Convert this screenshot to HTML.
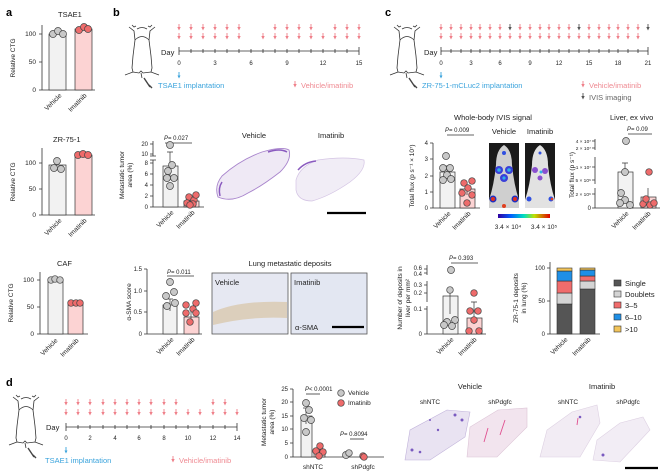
<!DOCTYPE html>
<html><head><meta charset="utf-8"><style>
html,body{margin:0;padding:0;background:#fff;}
svg{display:block;font-family:"Liberation Sans",sans-serif;}
text{fill:#222;}
.t{font-size:6.5px;}
.s{font-size:6px;}
.h{font-size:7.5px;}
.L{font-size:11px;font-weight:bold;fill:#000;}
.ax{stroke:#333;stroke-width:0.8;fill:none;}
.bg{fill:#f2f2f2;stroke:#333;stroke-width:0.7;}
.bp{fill:#fcd3d3;stroke:#333;stroke-width:0.7;}
.cg{fill:#c8c8c8;stroke:#444;stroke-width:0.7;}
.cp{fill:#ee6b6b;stroke:#444;stroke-width:0.7;}
.er{stroke:#333;stroke-width:0.7;fill:none;}
.bl{fill:#3aa3dc;font-size:7.5px;}
.pk{fill:#ef8a92;font-size:7.5px;}
</style></head><body>
<svg width="660" height="475" viewBox="0 0 660 475" xmlns="http://www.w3.org/2000/svg">
<defs>
<symbol id="ar" viewBox="0 0 4 7" width="4" height="7"><path d="M2,0V3" stroke="#ef7f89" stroke-width="0.9"/><path d="M0.3,3H3.7L2,6.5Z" fill="#ef7f89"/></symbol>
<symbol id="ag" viewBox="0 0 4 7" width="4" height="7"><path d="M2,0V3" stroke="#555" stroke-width="0.9"/><path d="M0.3,3H3.7L2,6.5Z" fill="#555"/></symbol>
<symbol id="ab" viewBox="0 0 4 7" width="4" height="7"><path d="M2,0V4" stroke="#3aa3dc" stroke-width="0.9"/><path d="M0.5,3.5H3.5L2,6.5Z" fill="#3aa3dc"/></symbol>
<symbol id="ms" viewBox="0 0 36 66" width="36" height="66">
<path d="M8,1 L10,3 L12,2 M28,1 L26,3 L24,2 M5,3 L10,7 L11,16 L9,32 L8,44 L9,48 L1,51 M9,48 L15,49 L17,47 L19,49 L27,48 L35,51 M27,48 L28,44 L27,32 L25,16 L26,7 L31,3 M11,16 Q18,9 25,16 M13,5 Q18,2 23,5 M17,49 L18,54" fill="none" stroke="#333" stroke-width="0.8"/>
<path d="M20,54 L26,63 M25,61 L28,64" stroke="#444" stroke-width="1.4" fill="none"/>
</symbol>
</defs>

<!-- ===== Panel a ===== -->
<text class="L" x="6" y="16">a</text>
<text class="h" x="58" y="17">TSAE1</text>
<path class="ax" d="M42,25V90H95M39,34H42M39,62H42M39,90H42"/>
<text class="t" x="36" y="36" text-anchor="end">100</text>
<text class="t" x="36" y="64" text-anchor="end">50</text>
<text class="t" x="36" y="92" text-anchor="end">0</text>
<text class="t" transform="translate(15,58) rotate(-90)" text-anchor="middle">Relative CTG</text>
<rect class="bg" x="49" y="34" width="17" height="56"/>
<rect class="bp" x="75" y="29" width="17" height="61"/>
<circle class="cg" cx="53" cy="34" r="3.5"/><circle class="cg" cx="58" cy="31" r="3.5"/><circle class="cg" cx="63" cy="34" r="3.5"/>
<circle class="cp" cx="79" cy="30" r="3.5"/><circle class="cp" cx="84" cy="27" r="3.5"/><circle class="cp" cx="88" cy="29" r="3.5"/>
<text class="t" transform="translate(62,96) rotate(-45)" text-anchor="end">Vehicle</text>
<text class="t" transform="translate(87,96) rotate(-45)" text-anchor="end">Imatinib</text>

<text class="h" x="53" y="142">ZR-75-1</text>
<path class="ax" d="M42,148V215H95M39,163H42M39,189H42M39,215H42"/>
<text class="t" x="36" y="165" text-anchor="end">100</text>
<text class="t" x="36" y="191" text-anchor="end">50</text>
<text class="t" x="36" y="217" text-anchor="end">0</text>
<text class="t" transform="translate(15,182) rotate(-90)" text-anchor="middle">Relative CTG</text>
<rect class="bg" x="49" y="165" width="17" height="50"/>
<rect class="bp" x="75" y="155" width="17" height="60"/>
<circle class="cg" cx="54" cy="168" r="3.5"/><circle class="cg" cx="57" cy="161" r="3.5"/><circle class="cg" cx="61" cy="169" r="3.5"/>
<circle class="cp" cx="78" cy="155" r="3.5"/><circle class="cp" cx="83" cy="154" r="3.5"/><circle class="cp" cx="88" cy="155" r="3.5"/>
<text class="t" transform="translate(62,221) rotate(-45)" text-anchor="end">Vehicle</text>
<text class="t" transform="translate(87,221) rotate(-45)" text-anchor="end">Imatinib</text>

<text class="h" x="57" y="266">CAF</text>
<path class="ax" d="M40,272V334H88M37,280H40M37,307H40M37,334H40"/>
<text class="t" x="34" y="282" text-anchor="end">100</text>
<text class="t" x="34" y="309" text-anchor="end">50</text>
<text class="t" x="34" y="336" text-anchor="end">0</text>
<text class="t" transform="translate(13,303) rotate(-90)" text-anchor="middle">Relative CTG</text>
<rect class="bg" x="48" y="280" width="15" height="54"/>
<rect class="bp" x="68" y="303" width="15" height="31"/>
<circle class="cg" cx="51" cy="280" r="3.3"/><circle class="cg" cx="55" cy="279" r="3.3"/><circle class="cg" cx="60" cy="280" r="3.3"/>
<circle class="cp" cx="71" cy="303" r="3.3"/><circle class="cp" cx="76" cy="303" r="3.3"/><circle class="cp" cx="80" cy="303" r="3.3"/>
<text class="t" transform="translate(58,341) rotate(-45)" text-anchor="end">Vehicle</text>
<text class="t" transform="translate(79,341) rotate(-45)" text-anchor="end">Imatinib</text>

<!-- ===== Panel b ===== -->
<text class="L" x="113" y="16">b</text>
<use href="#ms" x="124" y="24" width="36" height="66"/>
<text class="h" x="161" y="55">Day</text>
<path class="ax" d="M179,51H359M179,47V55M359,47V55M191,49v4M203,49v4M215,49v4M227,49v4M239,49v4M251,49v4M263,49v4M275,49v4M287,49v4M299,49v4M311,49v4M323,49v4M335,49v4M347,49v4"/>
<g class="s" text-anchor="middle"><text x="179" y="65">0</text><text x="215" y="65">3</text><text x="251" y="65">6</text><text x="287" y="65">9</text><text x="323" y="65">12</text><text x="359" y="65">15</text></g>
<g>
<use href="#ar" x="177" y="24"/><use href="#ar" x="189" y="24"/><use href="#ar" x="201" y="24"/><use href="#ar" x="213" y="24"/><use href="#ar" x="225" y="24"/><use href="#ar" x="237" y="24"/><use href="#ar" x="273" y="24"/><use href="#ar" x="285" y="24"/><use href="#ar" x="297" y="24"/><use href="#ar" x="309" y="24"/><use href="#ar" x="333" y="24"/><use href="#ar" x="345" y="24"/><use href="#ar" x="357" y="24"/>
<use href="#ar" x="177" y="33"/><use href="#ar" x="189" y="33"/><use href="#ar" x="201" y="33"/><use href="#ar" x="213" y="33"/><use href="#ar" x="225" y="33"/><use href="#ar" x="237" y="33"/><use href="#ar" x="261" y="33"/><use href="#ar" x="273" y="33"/><use href="#ar" x="285" y="33"/><use href="#ar" x="297" y="33"/><use href="#ar" x="309" y="33"/><use href="#ar" x="321" y="33"/><use href="#ar" x="333" y="33"/><use href="#ar" x="345" y="33"/><use href="#ar" x="357" y="33"/>
</g>
<use href="#ab" x="177" y="72"/>
<text class="bl" x="158" y="88">TSAE1 implantation</text>
<use href="#ar" x="293" y="81"/>
<text class="pk" x="301" y="88">Vehicle/imatinib</text>

<!-- b chart 1 -->
<text class="s" x="164" y="140" font-style="italic">P</text><text class="s" x="168" y="140"> = 0.027</text>
<path class="ax" d="M165,143H192"/>
<path class="ax" d="M153,141V156M153,160V207H204M150,144H153M150,154H153M150,163H153M150,174H153M150,185H153M150,196H153M150,207H153M150,156L156,156M150,160L156,160"/>
<g class="s" text-anchor="end"><text x="148" y="146">20</text><text x="148" y="156">10</text><text x="148" y="165">8</text><text x="148" y="176">6</text><text x="148" y="187">4</text><text x="148" y="198">2</text><text x="148" y="209">0</text></g>
<text class="t" transform="translate(124,175) rotate(-90)" text-anchor="middle">Metastatic tumor</text>
<text class="t" transform="translate(132,175) rotate(-90)" text-anchor="middle">area (%)</text>
<rect class="bg" x="163" y="166" width="15" height="41"/>
<rect class="bp" x="184" y="201" width="15" height="6"/>
<path class="er" d="M170,152V178M167,152H173M191,196V206"/>
<circle class="cg" cx="170" cy="145" r="3.5"/><circle class="cg" cx="172" cy="165" r="3.5"/><circle class="cg" cx="168" cy="171" r="3.5"/><circle class="cg" cx="174" cy="178" r="3.5"/><circle class="cg" cx="167" cy="178" r="3.5"/><circle class="cg" cx="170" cy="186" r="3.5"/>
<circle class="cp" cx="189" cy="197" r="3.3"/><circle class="cp" cx="194" cy="200" r="3.3"/><circle class="cp" cx="187" cy="203" r="3.3"/><circle class="cp" cx="193" cy="204" r="3.3"/><circle class="cp" cx="196" cy="195" r="3.3"/><circle class="cp" cx="190" cy="205" r="3.3"/>
<text class="t" transform="translate(174,213) rotate(-45)" text-anchor="end">Vehicle</text>
<text class="t" transform="translate(195,213) rotate(-45)" text-anchor="end">Imatinib</text>
<!-- histology b -->
<text class="h" x="254" y="138" text-anchor="middle">Vehicle</text>
<text class="h" x="331" y="138" text-anchor="middle">Imatinib</text>
<path d="M218,197 Q214,186 222,176 Q240,160 262,152 Q282,146 289,150 Q292,160 280,172 Q262,186 248,193 Q232,203 218,197Z" fill="#efe9f5" stroke="#a884cc" stroke-width="0.9"/>
<path d="M296,180 Q300,166 318,160 Q345,156 364,160 Q366,170 350,182 Q330,196 312,201 Q298,201 296,190Z" fill="#f1edf6" stroke="#d4c4e4" stroke-width="0.7"/>
<path d="M298,170 Q305,162 316,161" stroke="#8a5abf" stroke-width="1.5" fill="none"/>
<path d="M268,152 Q280,148 287,152" stroke="#8a5abf" stroke-width="1.5" fill="none"/>
<path d="M220,196 Q218,188 222,182" stroke="#8a5abf" stroke-width="1.5" fill="none"/>
<path d="M327,213H366" stroke="#000" stroke-width="2.2"/>

<!-- b chart 2 alpha-SMA -->
<text class="s" x="167" y="274" font-style="italic">P</text><text class="s" x="171" y="274"> = 0.011</text>
<path class="ax" d="M167,276H194"/>
<path class="ax" d="M147,269V334H202M144,269H147M144,291H147M144,312H147M144,334H147"/>
<g class="s" text-anchor="end"><text x="142" y="271">1.5</text><text x="142" y="293">1.0</text><text x="142" y="314">0.5</text><text x="142" y="336">0</text></g>
<text class="t" transform="translate(131,302) rotate(-90)" text-anchor="middle">α-SMA score</text>
<rect class="bg" x="163" y="305" width="14" height="29"/>
<rect class="bp" x="184" y="317" width="15" height="17"/>
<path class="er" d="M170,299V311M167,299H173M191,312V322"/>
<circle class="cg" cx="170" cy="282" r="3.5"/><circle class="cg" cx="174" cy="292" r="3.5"/><circle class="cg" cx="166" cy="296" r="3.5"/><circle class="cg" cx="175" cy="303" r="3.5"/><circle class="cg" cx="167" cy="306" r="3.5"/>
<circle class="cp" cx="186" cy="305" r="3.3"/><circle class="cp" cx="196" cy="303" r="3.3"/><circle class="cp" cx="193" cy="309" r="3.3"/><circle class="cp" cx="186" cy="313" r="3.3"/><circle class="cp" cx="190" cy="322" r="3.3"/><circle class="cp" cx="196" cy="313" r="3.3"/>
<text class="t" transform="translate(174,340) rotate(-45)" text-anchor="end">Vehicle</text>
<text class="t" transform="translate(195,340) rotate(-45)" text-anchor="end">Imatinib</text>
<text class="h" x="290" y="266" text-anchor="middle">Lung metastatic deposits</text>
<rect x="212" y="273" width="76" height="61" fill="#e6e8f2" stroke="#555" stroke-width="0.8"/>
<path d="M213,312 Q240,300 287,302 L287,318 Q250,316 213,325Z" fill="#d9c8ae" opacity="0.8"/>
<rect x="291" y="273" width="76" height="61" fill="#e3e7f2" stroke="#555" stroke-width="0.8"/>
<text class="h" x="215" y="285">Vehicle</text>
<text class="h" x="294" y="285">Imatinib</text>
<text class="h" x="295" y="330">α-SMA</text>
<path d="M332,327H364" stroke="#000" stroke-width="2.2"/>

<!-- ===== Panel c ===== -->
<text class="L" x="385" y="16">c</text>
<use href="#ms" x="389" y="24" width="36" height="66"/>
<text class="h" x="424" y="55">Day</text>
<path class="ax" d="M441,51H648M441,47V55M648,47V55M451,49v4M461,49v4M471,49v4M480,49v4M490,49v4M500,49v4M510,49v4M520,49v4M530,49v4M540,49v4M549,49v4M559,49v4M569,49v4M579,49v4M589,49v4M599,49v4M609,49v4M618,49v4M628,49v4M638,49v4"/>
<g class="s" text-anchor="middle"><text x="441" y="65">0</text><text x="471" y="65">3</text><text x="500" y="65">6</text><text x="530" y="65">9</text><text x="559" y="65">12</text><text x="589" y="65">15</text><text x="618" y="65">18</text><text x="648" y="65">21</text></g>
<g>
<use href="#ar" x="439" y="24"/><use href="#ar" x="449" y="24"/><use href="#ar" x="459" y="24"/><use href="#ar" x="469" y="24"/><use href="#ar" x="478" y="24"/><use href="#ar" x="488" y="24"/><use href="#ar" x="498" y="24"/><use href="#ag" x="508" y="24"/><use href="#ar" x="518" y="24"/><use href="#ar" x="528" y="24"/><use href="#ar" x="538" y="24"/><use href="#ar" x="547" y="24"/><use href="#ar" x="557" y="24"/><use href="#ar" x="567" y="24"/><use href="#ag" x="577" y="24"/><use href="#ar" x="587" y="24"/><use href="#ar" x="597" y="24"/><use href="#ar" x="607" y="24"/><use href="#ar" x="616" y="24"/><use href="#ar" x="626" y="24"/><use href="#ar" x="636" y="24"/><use href="#ag" x="646" y="24"/>
<use href="#ar" x="439" y="33"/><use href="#ar" x="449" y="33"/><use href="#ar" x="459" y="33"/><use href="#ar" x="469" y="33"/><use href="#ar" x="478" y="33"/><use href="#ar" x="488" y="33"/><use href="#ar" x="498" y="33"/><use href="#ar" x="508" y="33"/><use href="#ar" x="518" y="33"/><use href="#ar" x="528" y="33"/><use href="#ar" x="538" y="33"/><use href="#ar" x="547" y="33"/><use href="#ar" x="557" y="33"/><use href="#ar" x="567" y="33"/><use href="#ar" x="577" y="33"/><use href="#ar" x="587" y="33"/><use href="#ar" x="597" y="33"/><use href="#ar" x="607" y="33"/><use href="#ar" x="616" y="33"/><use href="#ar" x="626" y="33"/><use href="#ar" x="636" y="33"/>
</g>
<use href="#ab" x="439" y="72"/>
<text class="bl" x="422" y="88">ZR-75-1-mCLuc2 implantation</text>
<use href="#ar" x="581" y="81"/>
<text class="pk" x="589" y="88">Vehicle/imatinib</text>
<use href="#ag" x="581" y="93"/>
<text class="h" x="589" y="100" style="fill:#666">IVIS imaging</text>

<!-- c IVIS chart -->
<text class="h" x="493" y="120" text-anchor="middle">Whole-body IVIS signal</text>
<text class="s" x="445" y="132" font-style="italic">P</text><text class="s" x="449" y="132"> = 0.009</text>
<path class="ax" d="M447,135H474"/>
<path class="ax" d="M433,143V208H480M430,143H433M430,159H433M430,176H433M430,192H433M430,208H433"/>
<g class="s" text-anchor="end"><text x="428" y="145">4</text><text x="428" y="161">3</text><text x="428" y="178">2</text><text x="428" y="194">1</text><text x="428" y="210">0</text></g>
<text class="t" transform="translate(414,176) rotate(-90)" text-anchor="middle">Total flux (p s⁻¹ × 10⁷)</text>
<rect class="bg" x="440" y="172" width="15" height="36"/>
<rect class="bp" x="460" y="189" width="15" height="19"/>
<path class="er" d="M447,166V178M444,166H450M467,184V195"/>
<circle class="cg" cx="446" cy="156" r="3.5"/><circle class="cg" cx="443" cy="168" r="3.5"/><circle class="cg" cx="450" cy="168" r="3.5"/><circle class="cg" cx="447" cy="175" r="3.5"/><circle class="cg" cx="443" cy="180" r="3.5"/><circle class="cg" cx="451" cy="179" r="3.5"/>
<circle class="cp" cx="464" cy="183" r="3.3"/><circle class="cp" cx="472" cy="181" r="3.3"/><circle class="cp" cx="468" cy="188" r="3.3"/><circle class="cp" cx="462" cy="193" r="3.3"/><circle class="cp" cx="472" cy="195" r="3.3"/><circle class="cp" cx="467" cy="203" r="3.3"/>
<text class="t" transform="translate(451,214) rotate(-45)" text-anchor="end">Vehicle</text>
<text class="t" transform="translate(471,214) rotate(-45)" text-anchor="end">Imatinib</text>
<text class="h" x="504" y="134" text-anchor="middle">Vehicle</text>
<text class="h" x="540" y="134" text-anchor="middle">Imatinib</text>
<rect x="489" y="143" width="30" height="65" fill="#1a1a1a"/>
<path d="M504,145 Q496,150 496,165 Q494,185 489,200 L489,208 L519,208 L519,200 Q514,185 512,165 Q512,150 504,145Z" fill="#cfcfcf"/>
<circle cx="504" cy="153" r="2" fill="#3050e0"/>
<circle cx="499" cy="170" r="4" fill="#3a40d8"/><circle cx="509" cy="170" r="4" fill="#3a40d8"/><circle cx="504" cy="178" r="4" fill="#3a40d8"/>
<circle cx="499" cy="170" r="1.8" fill="#30b0e8"/><circle cx="509" cy="170" r="1.8" fill="#30b0e8"/><circle cx="504" cy="178" r="1.6" fill="#30b0e8"/>
<circle cx="493" cy="199" r="3.5" fill="#2030c0"/><circle cx="493" cy="199" r="2" fill="#e03020"/><circle cx="515" cy="199" r="3.5" fill="#2030c0"/><circle cx="515" cy="199" r="2" fill="#e03020"/><circle cx="504" cy="206" r="2" fill="#e04020"/>
<rect x="525" y="143" width="30" height="65" fill="#1a1a1a"/>
<path d="M540,145 Q532,150 532,165 Q530,185 525,200 L525,208 L555,208 L555,200 Q550,185 548,165 Q548,150 540,145Z" fill="#e2e2e2"/>
<circle cx="540" cy="153" r="1.5" fill="#3050e0"/>
<circle cx="535" cy="170" r="3" fill="#8a50d0"/><circle cx="545" cy="171" r="3" fill="#8a50d0"/><circle cx="540" cy="178" r="2.5" fill="#8a50d0"/><circle cx="541" cy="172" r="1.5" fill="#30b0e8"/>
<circle cx="529" cy="199" r="2.5" fill="#3050e0"/><circle cx="551" cy="199" r="2.5" fill="#3050e0"/><circle cx="552" cy="199" r="1.3" fill="#e04020"/>
<defs><linearGradient id="cb"><stop offset="0" stop-color="#3000a0"/><stop offset="0.25" stop-color="#0060ff"/><stop offset="0.5" stop-color="#00e0c0"/><stop offset="0.7" stop-color="#c0e000"/><stop offset="1" stop-color="#e00000"/></linearGradient></defs>
<rect x="498" y="214" width="52" height="4" fill="url(#cb)"/>
<text class="t" x="508" y="229" text-anchor="middle">3.4 × 10⁴</text>
<text class="t" x="544" y="229" text-anchor="middle">3.4 × 10⁵</text>

<!-- c liver chart -->
<text class="h" x="610" y="120">Liver, ex vivo</text>
<text class="s" x="627" y="131" font-style="italic">P</text><text class="s" x="631" y="131"> = 0.09</text>
<path class="ax" d="M628,134H652"/>
<path class="ax" d="M595,139V150M595,157V184M595,188V208H660M592,141H595M592,148H595M592,167H595M592,180H595M592,194H595M592,208H595"/>
<g text-anchor="end" font-size="4.8"><text x="591" y="143">4 × 10⁷</text><text x="591" y="150">2 × 10⁷</text><text x="591" y="169">1 × 10⁷</text><text x="591" y="182">5 × 10⁶</text><text x="591" y="196">2 × 10⁶</text><text x="591" y="210" font-size="6">0</text></g>
<text class="t" transform="translate(574,175) rotate(-90)" text-anchor="middle">Total flux (p s⁻¹)</text>
<rect class="bg" x="618" y="172" width="15" height="36"/>
<rect class="bp" x="641" y="197" width="15" height="11"/>
<path class="er" d="M625,163V172M622,163H628M648,188V200"/>
<circle class="cg" cx="626" cy="141" r="3.5"/><circle class="cg" cx="625" cy="172" r="3.5"/><circle class="cg" cx="621" cy="193" r="3.5"/><circle class="cg" cx="625" cy="200" r="3.5"/><circle class="cg" cx="630" cy="205" r="3.5"/><circle class="cg" cx="620" cy="203" r="3.5"/>
<circle class="cp" cx="649" cy="172" r="3.3"/><circle class="cp" cx="643" cy="204" r="3.3"/><circle class="cp" cx="650" cy="205" r="3.3"/><circle class="cp" cx="646" cy="199" r="3.3"/><circle class="cp" cx="654" cy="203" r="3.3"/>
<text class="t" transform="translate(629,214) rotate(-45)" text-anchor="end">Vehicle</text>
<text class="t" transform="translate(651,214) rotate(-45)" text-anchor="end">Imatinib</text>

<!-- c deposits chart -->
<text class="s" x="449" y="260" font-style="italic">P</text><text class="s" x="453" y="260"> = 0.393</text>
<path class="ax" d="M451,263H478"/>
<path class="ax" d="M427,265V275M427,281V302M427,306V334H486M424,269H427M424,273H427M424,285H427M424,293H427M424,309H427M424,334H427"/>
<g class="s" text-anchor="end"><text x="422" y="270">0.6</text><text x="422" y="276">0.4</text><text x="422" y="287">0.3</text><text x="422" y="295">0.2</text><text x="422" y="311">0.1</text><text x="422" y="336">0</text></g>
<text class="t" transform="translate(402,298) rotate(-90)" text-anchor="middle">Number of deposits in</text>
<text class="t" transform="translate(410,298) rotate(-90)" text-anchor="middle">liver per mm²</text>
<rect class="bg" x="443" y="296" width="15" height="38"/>
<rect class="bp" x="467" y="318" width="15" height="16"/>
<path class="er" d="M450,290V314M447,290H453M474,302V324M471,302H477"/>
<circle class="cg" cx="451" cy="270" r="3.5"/><circle class="cg" cx="450" cy="290" r="3.3"/><circle class="cg" cx="447" cy="322" r="3.5"/><circle class="cg" cx="455" cy="320" r="3.5"/><circle class="cg" cx="452" cy="326" r="3.5"/><circle class="cg" cx="444" cy="325" r="3.5"/>
<circle class="cp" cx="474" cy="293" r="3.3"/><circle class="cp" cx="470" cy="311" r="3.3"/><circle class="cp" cx="478" cy="311" r="3.3"/><circle class="cp" cx="474" cy="320" r="3.3"/><circle class="cp" cx="469" cy="331" r="3.3"/><circle class="cp" cx="479" cy="331" r="3.3"/>
<text class="t" transform="translate(454,340) rotate(-45)" text-anchor="end">Vehicle</text>
<text class="t" transform="translate(477,340) rotate(-45)" text-anchor="end">Imatinib</text>

<!-- c stacked -->
<path class="ax" d="M550,262V334H600M547,268H550M547,301H550M547,334H550"/>
<g class="s" text-anchor="end"><text x="545" y="270">100</text><text x="545" y="303">50</text><text x="545" y="336">0</text></g>
<text class="t" transform="translate(518,298) rotate(-90)" text-anchor="middle">ZR-75-1 deposits</text>
<text class="t" transform="translate(526,298) rotate(-90)" text-anchor="middle">in lung (%)</text>
<g stroke="#333" stroke-width="0.6">
<rect x="557" y="304" width="15" height="30" fill="#555"/>
<rect x="557" y="293" width="15" height="11" fill="#d4d4d4"/>
<rect x="557" y="281" width="15" height="12" fill="#f06c6c"/>
<rect x="557" y="271" width="15" height="10" fill="#1f8fe6"/>
<rect x="557" y="268" width="15" height="3" fill="#f2c45a"/>
<rect x="580" y="289" width="15" height="45" fill="#555"/>
<rect x="580" y="281" width="15" height="8" fill="#d4d4d4"/>
<rect x="580" y="276" width="15" height="5" fill="#f06c6c"/>
<rect x="580" y="270" width="15" height="6" fill="#1f8fe6"/>
<rect x="580" y="268" width="15" height="2" fill="#f2c45a"/>
</g>
<text class="t" transform="translate(568,340) rotate(-45)" text-anchor="end">Vehicle</text>
<text class="t" transform="translate(591,340) rotate(-45)" text-anchor="end">Imatinib</text>
<g stroke="#333" stroke-width="0.6">
<rect x="614" y="280" width="7" height="6" fill="#555"/>
<rect x="614" y="291" width="7" height="6" fill="#d4d4d4"/>
<rect x="614" y="302" width="7" height="6" fill="#f06c6c"/>
<rect x="614" y="314" width="7" height="6" fill="#1f8fe6"/>
<rect x="614" y="326" width="7" height="6" fill="#f2c45a"/>
</g>
<g class="h"><text x="625" y="286">Single</text><text x="625" y="297">Doublets</text><text x="625" y="308">3–5</text><text x="625" y="320">6–10</text><text x="625" y="332">&gt;10</text></g>

<!-- ===== Panel d ===== -->
<text class="L" x="6" y="386">d</text>
<use href="#ms" x="8" y="394" width="36" height="66"/>
<text class="h" x="46" y="430">Day</text>
<path class="ax" d="M66,427H237M66,423V431M237,423V431M78,425v4M90,425v4M103,425v4M115,425v4M127,425v4M139,425v4M151,425v4M164,425v4M176,425v4M188,425v4M200,425v4M213,425v4M225,425v4"/>
<g class="s" text-anchor="middle"><text x="66" y="440">0</text><text x="90" y="440">2</text><text x="115" y="440">4</text><text x="139" y="440">6</text><text x="164" y="440">8</text><text x="188" y="440">10</text><text x="213" y="440">12</text><text x="237" y="440">14</text></g>
<g>
<use href="#ar" x="64" y="399"/><use href="#ar" x="76" y="399"/><use href="#ar" x="88" y="399"/><use href="#ar" x="101" y="399"/><use href="#ar" x="113" y="399"/><use href="#ar" x="125" y="399"/><use href="#ar" x="137" y="399"/><use href="#ar" x="149" y="399"/><use href="#ar" x="162" y="399"/><use href="#ar" x="174" y="399"/><use href="#ar" x="211" y="399"/><use href="#ar" x="223" y="399"/>
<use href="#ar" x="64" y="409"/><use href="#ar" x="76" y="409"/><use href="#ar" x="88" y="409"/><use href="#ar" x="101" y="409"/><use href="#ar" x="113" y="409"/><use href="#ar" x="125" y="409"/><use href="#ar" x="137" y="409"/><use href="#ar" x="149" y="409"/><use href="#ar" x="162" y="409"/><use href="#ar" x="174" y="409"/><use href="#ar" x="186" y="409"/><use href="#ar" x="198" y="409"/><use href="#ar" x="211" y="409"/><use href="#ar" x="223" y="409"/><use href="#ar" x="235" y="409"/>
</g>
<use href="#ab" x="64" y="447"/>
<text class="bl" x="45" y="463">TSAE1 implantation</text>
<use href="#ar" x="171" y="456"/>
<text class="pk" x="179" y="463">Vehicle/imatinib</text>

<!-- d chart -->
<text class="s" x="305" y="391" font-style="italic">P</text><text class="s" x="309" y="391"> &lt; 0.0001</text>
<path class="ax" d="M306,394H320"/>
<text class="s" x="340" y="436" font-style="italic">P</text><text class="s" x="344" y="436"> = 0.8094</text>
<path class="ax" d="M350,439H364"/>
<path class="ax" d="M293,389V457H384M290,389H293M290,402H293M290,416H293M290,429H293M290,443H293M290,457H293"/>
<g class="s" text-anchor="end"><text x="288" y="391">25</text><text x="288" y="404">20</text><text x="288" y="418">15</text><text x="288" y="431">10</text><text x="288" y="445">5</text><text x="288" y="459">0</text></g>
<text class="t" transform="translate(266,422) rotate(-90)" text-anchor="middle">Metastatic tumor</text>
<text class="t" transform="translate(274,422) rotate(-90)" text-anchor="middle">area (%)</text>
<rect class="bg" x="301" y="416" width="11" height="41"/>
<rect class="bp" x="314" y="450" width="11" height="7"/>
<path class="er" d="M306,408V424M303,408H309"/>
<circle class="cg" cx="306" cy="403" r="3.5"/><circle class="cg" cx="309" cy="410" r="3.5"/><circle class="cg" cx="304" cy="418" r="3.5"/><circle class="cg" cx="311" cy="420" r="3.5"/><circle class="cg" cx="306" cy="432" r="3.5"/>
<circle class="cp" cx="320" cy="446" r="3.3"/><circle class="cp" cx="316" cy="451" r="3.3"/><circle class="cp" cx="323" cy="452" r="3.3"/><circle class="cp" cx="319" cy="456" r="3.3"/>
<circle class="cg" cx="346" cy="455" r="3.5"/><circle class="cg" cx="349" cy="453" r="3.3"/><circle class="cp" cx="363" cy="456" r="3.3"/><circle class="cp" cx="364" cy="457" r="3.3"/>
<text class="t" x="313" y="469" text-anchor="middle">shNTC</text>
<text class="t" x="363" y="469" text-anchor="middle">shPdgfc</text>
<circle class="cg" cx="341" cy="393" r="3.3"/><text class="t" x="348" y="395">Vehicle</text>
<circle class="cp" cx="341" cy="403" r="3.3"/><text class="t" x="348" y="405">Imatinib</text>

<!-- d histology -->
<text class="h" x="470" y="389" text-anchor="middle">Vehicle</text>
<text class="h" x="602" y="389" text-anchor="middle">Imatinib</text>
<text class="t" x="430" y="404" text-anchor="middle">shNTC</text>
<text class="t" x="500" y="404" text-anchor="middle">shPdgfc</text>
<text class="t" x="568" y="404" text-anchor="middle">shNTC</text>
<text class="t" x="628" y="404" text-anchor="middle">shPdgfc</text>
<path d="M405,460 L410,430 L447,410 L470,412 L465,437 L430,460Z" fill="#e9e3f2" stroke="#c0b2da" stroke-width="0.6"/>
<path d="M467,457 L470,427 L498,410 L527,408 L527,427 L497,457Z" fill="#f2e4ee" stroke="#dcc4d6" stroke-width="0.6"/>
<path d="M540,457 L547,430 L572,412 L597,405 L600,423 L580,457Z" fill="#f2ecf4" stroke="#ddd0e2" stroke-width="0.6"/>
<path d="M593,460 L597,440 L620,423 L643,417 L650,430 L620,462Z" fill="#f2edf5" stroke="#ddd0e2" stroke-width="0.6"/>
<g fill="#7a5bc0"><circle cx="455" cy="415" r="1.5"/><circle cx="462" cy="420" r="1.5"/><circle cx="412" cy="450" r="1.5"/><circle cx="420" cy="452" r="1.3"/><circle cx="438" cy="430" r="1.2"/><circle cx="430" cy="420" r="1"/><circle cx="580" cy="417" r="1.3"/><circle cx="603" cy="455" r="1.5"/></g>
<g stroke="#e05090" stroke-width="0.9"><path d="M505,420 L500,435"/><path d="M488,428 L484,442"/><path d="M578,418 L577,425"/></g>
<path d="M625,468H658" stroke="#000" stroke-width="2.2"/>
</svg>
</body></html>
